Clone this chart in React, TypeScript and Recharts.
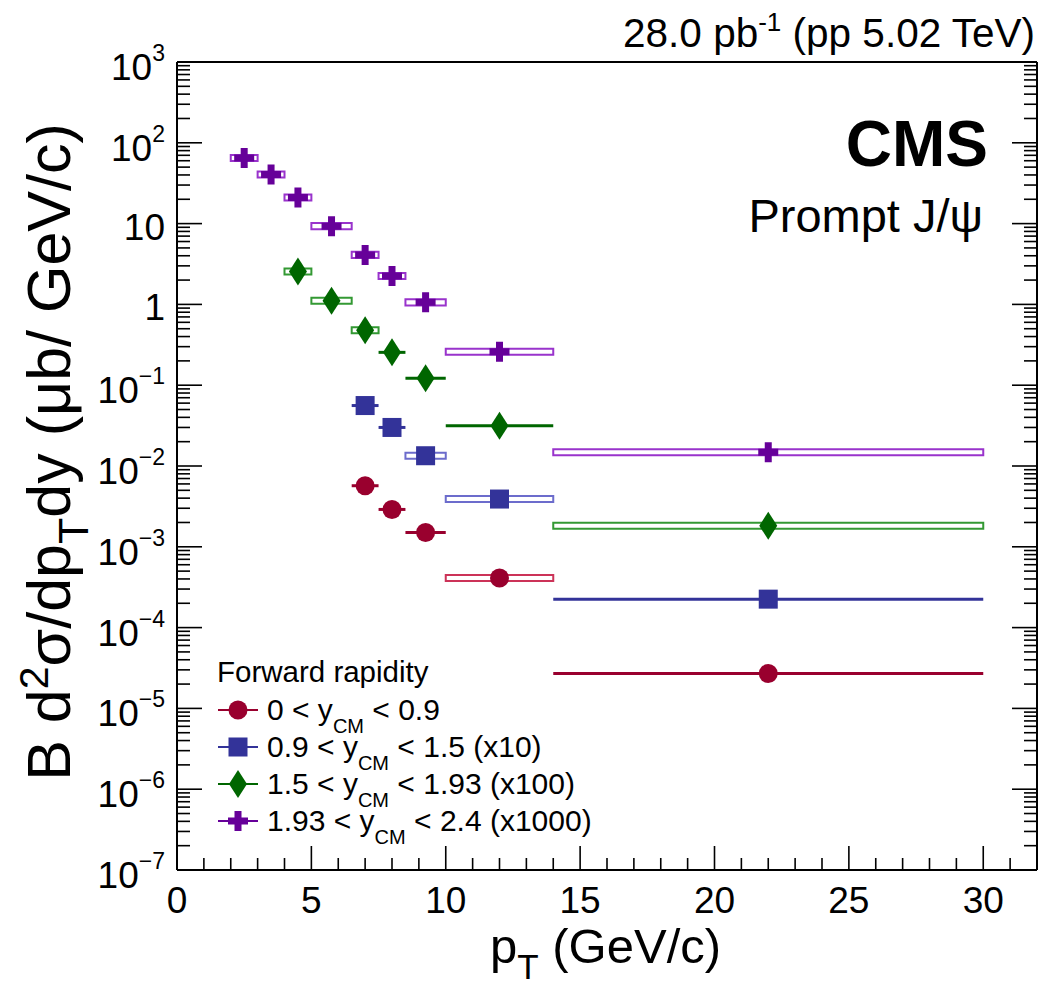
import React from "react";
import { ScatterChart, Scatter, XAxis, YAxis, ErrorBar, ReferenceArea, Legend } from "recharts";

const FONT = '"Liberation Sans", Arial, Helvetica, sans-serif';
const W = 1040;
const H = 991;

// pT bins (GeV/c): centre, low edge, high edge
const ptWide = [2.5, 3.5, 4.5, 5.75, 7, 8, 9.25, 12, 22];
const ptWideLo = [2, 3, 4, 5, 6.5, 7.5, 8.5, 10, 14];
const ptWideHi = [3, 4, 5, 6.5, 7.5, 8.5, 10, 14, 30];

const ptMid = [4.5, 5.75, 7, 8, 9.25, 12, 22];
const ptMidLo = [4, 5, 6.5, 7.5, 8.5, 10, 14];
const ptMidHi = [5, 6.5, 7.5, 8.5, 10, 14, 30];

const ptNarrow = [7, 8, 9.25, 12, 22];
const ptNarrowLo = [6.5, 7.5, 8.5, 10, 14];
const ptNarrowHi = [7.5, 8.5, 10, 14, 30];

// cross sections as drawn on the plot (already multiplied by the legend factor)
const yRap0 = [5.7e-3, 2.9e-3, 1.5e-3, 4.1e-4, 2.7e-5];
const yRap1 = [5.6e-2, 3.0e-2, 1.34e-2, 3.9e-3, 2.25e-4];
const yRap2 = [2.55, 1.11, 0.48, 0.255, 0.122, 0.0315, 1.82e-3];
const yRap3 = [65, 40.5, 21, 9.3, 4.1, 2.25, 1.06, 0.26, 1.48e-2];

// points drawn with an open systematic box instead of a plain bin line
const boxRap0 = [false, false, false, true, false];
const boxRap1 = [false, false, true, true, false];
const boxRap2 = [true, true, true, false, false, false, true];
const boxRap3 = [true, true, true, true, true, true, true, true, true];

const SYST = 1.09; // half height of the syst. boxes (multiplicative)

const xTicks = Array.from({ length: 33 }, (_, i) => i);
const yExponents = [-7, -6, -5, -4, -3, -2, -1, 0, 1, 2, 3];
const yMinor = [2, 3, 4, 5, 6, 7, 8, 9];

const yTicks: number[] = [];
yExponents.forEach((e) => {
  yTicks.push(10 ** e);
  if (e < 3) yMinor.forEach((m) => yTicks.push(Number((m * 10 ** e).toPrecision(6))));
});

const makeRows = (pt: number[], lo: number[], hi: number[], y: number[], box: boolean[]) =>
  pt.map((p, i) => ({
    pt: p,
    y: y[i],
    lo: lo[i],
    hi: hi[i],
    box: box[i],
    err: box[i] ? [0, 0] : [p - lo[i], hi[i] - p],
  }));

const series = [
  { name: "0 < y_CM < 0.9", kind: "circle", color: "#99002e", boxColor: "#cc3358", rows: makeRows(ptNarrow, ptNarrowLo, ptNarrowHi, yRap0, boxRap0) },
  { name: "0.9 < y_CM < 1.5 (x10)", kind: "square", color: "#333399", boxColor: "#6c6ccc", rows: makeRows(ptNarrow, ptNarrowLo, ptNarrowHi, yRap1, boxRap1) },
  { name: "1.5 < y_CM < 1.93 (x100)", kind: "diamond", color: "#006600", boxColor: "#339933", rows: makeRows(ptMid, ptMidLo, ptMidHi, yRap2, boxRap2) },
  { name: "1.93 < y_CM < 2.4 (x1000)", kind: "cross", color: "#660099", boxColor: "#9933cc", rows: makeRows(ptWide, ptWideLo, ptWideHi, yRap3, boxRap3) },
];

const legendText = [
  ["0 < y", " < 0.9"],
  ["0.9 < y", " < 1.5 (x10)"],
  ["1.5 < y", " < 1.93 (x100)"],
  ["1.93 < y", " < 2.4 (x1000)"],
];

function Marker({ kind, cx, cy, color }: { kind: string; cx: number; cy: number; color: string }) {
  if (cx == null || cy == null) return null;
  if (kind === "circle") return <circle cx={cx} cy={cy} r={9.5} fill={color} />;
  if (kind === "square") return <rect x={cx - 9.5} y={cy - 9.5} width={19} height={19} fill={color} />;
  if (kind === "diamond")
    return <path d={`M${cx},${cy - 14} L${cx + 9},${cy} L${cx},${cy + 14} L${cx - 9},${cy} Z`} fill={color} />;
  const a = 10;
  const t = 3.5;
  return (
    <path
      d={`M${cx - t},${cy - a} H${cx + t} V${cy - t} H${cx + a} V${cy + t} H${cx + t} V${cy + a} H${cx - t} V${cy + t} H${cx - a} V${cy - t} H${cx - t} Z`}
      fill={color}
    />
  );
}

const isMajor = (v: number) => Math.abs(Math.log10(v) - Math.round(Math.log10(v))) < 1e-6;

function YLabel({ x, y, v }: { x: number; y: number; v: number }) {
  const e = Math.round(Math.log10(v));
  if (e === 0 || e === 1) {
    return (
      <text x={x} y={y + 16} textAnchor="end" fontSize={37} fontFamily={FONT} fill="#000">
        {e === 0 ? "1" : "10"}
      </text>
    );
  }
  return (
    <text x={x} y={y + 18} textAnchor="end" fontSize={37} fontFamily={FONT} fill="#000">
      10
      <tspan dy={-19} fontSize={23}>
        {e < 0 ? `\u2212${-e}` : `${e}`}
      </tspan>
    </text>
  );
}

const YTickLeft = (p: any) => {
  const v = p.payload.value;
  const major = isMajor(v);
  return (
    <g>
      <line x1={p.x} x2={p.x + (major ? 25 : 13)} y1={p.y} y2={p.y} stroke="#000" strokeWidth={1.6} />
      {major && <YLabel x={p.x - 12} y={p.y} v={v} />}
    </g>
  );
};

const YTickRight = (p: any) => {
  const major = isMajor(p.payload.value);
  return <line x1={p.x} x2={p.x - (major ? 25 : 13)} y1={p.y} y2={p.y} stroke="#000" strokeWidth={1.6} />;
};

const XTickBottom = (p: any) => {
  const v = p.payload.value;
  const major = v % 5 === 0;
  return (
    <g>
      <line x1={p.x} x2={p.x} y1={p.y} y2={p.y - (major ? 24 : 12)} stroke="#000" strokeWidth={1.6} />
      {major && (
        <text x={p.x} y={p.y + 43} textAnchor="middle" fontSize={37} fontFamily={FONT} fill="#000">
          {v}
        </text>
      )}
    </g>
  );
};

const XTickTop = (p: any) => {
  const major = p.payload.value % 5 === 0;
  return <line x1={p.x} x2={p.x} y1={p.y} y2={p.y + (major ? 24 : 12)} stroke="#000" strokeWidth={1.6} />;
};

function LegendBox() {
  return (
    <svg width={420} height={200} style={{ overflow: "visible", fontFamily: FONT }}>
      <text x={27} y={32} fontSize={29.5} fill="#000">
        Forward rapidity
      </text>
      {series.map((s, i) => {
        const cy = 60 + i * 37;
        return (
          <g key={s.name}>
            <line x1={28} x2={68} y1={cy} y2={cy} stroke={s.color} strokeWidth={2} />
            <Marker kind={s.kind} cx={48} cy={cy} color={s.color} />
            <text x={77} y={cy + 10} fontSize={30} fill="#000">
              {legendText[i][0]}
              <tspan dy={13} fontSize={20}>
                CM
              </tspan>
              <tspan dy={-13} fontSize={30}>
                {legendText[i][1]}
              </tspan>
            </text>
          </g>
        );
      })}
    </svg>
  );
}

export default function App() {
  const frame = { stroke: "#000", strokeWidth: 2 };
  return (
    <div style={{ position: "absolute", left: 0, top: 0, width: W, height: H, background: "#fff" }}>
      <ScatterChart width={W} height={H} margin={{ top: 61, right: 2, bottom: 120, left: 176 }}>
        <XAxis
          xAxisId={0}
          type="number"
          dataKey="pt"
          domain={[0, 32]}
          allowDataOverflow
          ticks={xTicks}
          interval={0}
          height={1}
          tickSize={0}
          tickMargin={0}
          tickLine={false}
          axisLine={frame}
          tick={XTickBottom}
        />
        <XAxis
          xAxisId="top"
          orientation="top"
          type="number"
          domain={[0, 32]}
          allowDataOverflow
          ticks={xTicks}
          interval={0}
          height={1}
          tickSize={0}
          tickMargin={0}
          tickLine={false}
          axisLine={frame}
          tick={XTickTop}
        />
        <YAxis
          yAxisId={0}
          type="number"
          dataKey="y"
          scale="log"
          domain={[1e-7, 1e3]}
          allowDataOverflow
          ticks={yTicks}
          interval={0}
          width={1}
          tickSize={0}
          tickMargin={0}
          tickLine={false}
          axisLine={frame}
          tick={YTickLeft}
        />
        <YAxis
          yAxisId="right"
          orientation="right"
          type="number"
          scale="log"
          domain={[1e-7, 1e3]}
          allowDataOverflow
          ticks={yTicks}
          interval={0}
          width={1}
          tickSize={0}
          tickMargin={0}
          tickLine={false}
          axisLine={frame}
          tick={YTickRight}
        />
        {series.map((s) =>
          s.rows
            .filter((r) => r.box)
            .map((r) => (
              <ReferenceArea
                key={`${s.name}-${r.pt}`}
                x1={r.lo}
                x2={r.hi}
                y1={r.y / SYST}
                y2={r.y * SYST}
                fill="#fff"
                fillOpacity={1}
                stroke={s.boxColor}
                strokeWidth={2}
                strokeOpacity={1}
              />
            ))
        )}
        {series.map((s) => (
          <Scatter
            key={s.name}
            name={s.name}
            data={s.rows}
            fill={s.color}
            isAnimationActive={false}
            shape={(p: any) => <Marker kind={s.kind} cx={p.cx} cy={p.cy} color={s.color} />}
          >
            <ErrorBar dataKey="err" direction="x" width={0} stroke={s.color} strokeWidth={3} isAnimationActive={false} />
          </Scatter>
        ))}
        <Legend
          layout="vertical"
          align="center"
          verticalAlign="middle"
          wrapperStyle={{ left: 190, top: 650, width: 420, height: 200 }}
          content={() => <LegendBox />}
        />
      </ScatterChart>
      <svg
        width={W}
        height={H}
        style={{ position: "absolute", left: 0, top: 0, pointerEvents: "none", fontFamily: FONT }}
      >
        <text x={1035} y={47} textAnchor="end" fontSize={40.5} fill="#000">
          28.0 pb
          <tspan dy={-16} fontSize={26}>
            -1
          </tspan>
          <tspan dy={16} fontSize={40.5}>
            {" (pp 5.02 TeV)"}
          </tspan>
        </text>
        <text x={988} y={166} textAnchor="end" fontSize={64} fontWeight="bold" fill="#000">
          CMS
        </text>
        <text x={983} y={232} textAnchor="end" fontSize={47} fill="#000">
          Prompt J/ψ
        </text>
        <text x={490} y={963} fontSize={49} fill="#000">
          p
          <tspan dy={16} fontSize={35}>
            T
          </tspan>
          <tspan dy={-16} fontSize={49}>
            {" (GeV/c)"}
          </tspan>
        </text>
        <text transform="translate(70,452) rotate(-90)" textAnchor="middle" fontSize={61} fill="#000">
          B d
          <tspan dy={-22} fontSize={41}>
            2
          </tspan>
          <tspan dy={22} fontSize={61}>
            σ/dp
          </tspan>
          <tspan dy={18} fontSize={43}>
            T
          </tspan>
          <tspan dy={-18} fontSize={61}>
            dy (μb/ GeV/c)
          </tspan>
        </text>
      </svg>
    </div>
  );
}
